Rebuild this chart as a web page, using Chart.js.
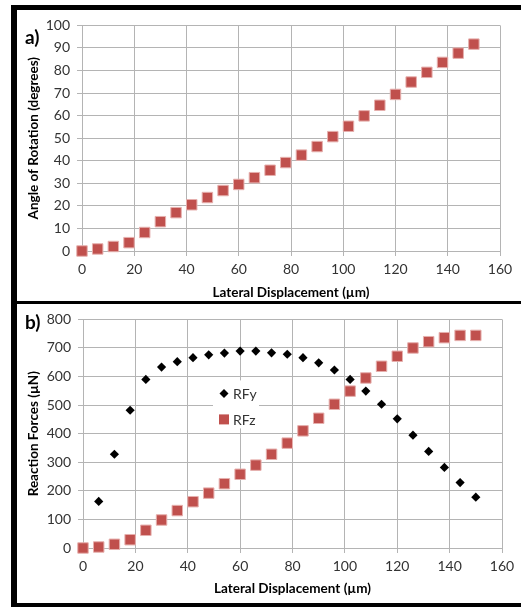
<!DOCTYPE html>
<html><head><meta charset="utf-8">
<script src="https://cdn.jsdelivr.net/npm/chart.js@4/dist/chart.umd.min.js"></script>
<style>
html,body{margin:0;padding:0;background:#fff;}
body{width:521px;height:607px;overflow:hidden;position:relative;font-family:Lato,"Open Sans",sans-serif;}
#frame{position:absolute;left:11px;top:5px;width:520px;height:602px;border-left:6px solid #000;border-top:5px solid #000;border-bottom:4px solid #000;box-sizing:border-box;}
#divider{position:absolute;left:11px;top:301px;width:520px;height:3px;background:#000;}
.box{position:absolute;left:17px;width:504px;}
#b1{top:10px;height:291px;}
#b2{top:304px;height:299px;}
.lab{position:absolute;font-weight:bold;font-size:19px;color:#000;font-family:Lato,sans-serif;}
</style></head>
<body>
<div id="frame"></div>
<div id="divider"></div>
<div class="box" id="b1"><canvas id="c1" width="504" height="291"></canvas></div>
<div class="box" id="b2"><canvas id="c2" width="504" height="299"></canvas></div>
<div class="lab" style="left:25px;top:25px;">a)</div>
<div class="lab" style="left:25px;top:310px;">b)</div>
<script>
const displacement = [0,6,12,18,24,30,36,42,48,54,60,66,72,78,84,90,96,102,108,114,120,126,132,138,144,150];
const rotation = [0,0.9,2,3.7,8.2,13,17,20.5,23.7,26.8,29.5,32.5,35.8,39.2,42.5,46.3,50.7,55.3,59.9,64.6,69.4,74.9,79.2,83.6,87.7,91.7];
const rfy = [null,163,328,482,590,633,652,666,676,682,689,689,683,678,666,648,623,590,549,503,452,395,338,282,229,178];
const rfz = [0,3.5,13,29,62,98,131,162,192,225,258,290,328,367,410,454,503,549,595,636,671,700,722,736,744,744];
const xTicksMax = 160, xStep = 20;
const seriesNames = ['RFy','RFz'];
const xTitle = 'Lateral Displacement (µm)';
const yTitleA = 'Angle of Rotation (degrees)';
const yTitleB = 'Reaction Forces (µN)';

const RED = '#C0504D', RED_BORDER = '#E6B0AE', GRID = '#b4b4b4', TXT = '#333';
const tickFont = {family:'Lato', size:14};
const titleFont = {family:'Lato', size:13.5, weight:'bold'};

function pts(vals){ return displacement.map((x,i)=>({x:x,y:vals[i]})).filter(p=>p.y!==null); }

function scales(ymax, ystep, ytitle, yw, xh, xpb){
  return {
    x:{type:'linear',min:0,max:xTicksMax,
      ticks:{stepSize:xStep,color:TXT,font:tickFont,padding:5,maxRotation:0},
      grid:{color:GRID,tickLength:5,tickColor:GRID},
      border:{color:GRID},
      title:{display:true,text:xTitle,color:'#000',font:titleFont,padding:{top:0,bottom:xpb}},
      afterFit(s){s.height=xh;}
    },
    y:{type:'linear',min:0,max:ymax,
      ticks:{stepSize:ystep,color:TXT,font:tickFont,padding:7},
      grid:{color:GRID,tickLength:5,tickColor:GRID},
      border:{color:GRID},
      title:{display:true,text:ytitle,color:'#000',font:titleFont,padding:{top:9,bottom:0}},
      afterFit(s){s.width=yw;}
    }
  };
}

const insideLegend = {
  id:'insideLegend',
  beforeDatasetsDraw(chart, args, o){
    if(!o || !o.show) return;
    const {ctx, chartArea} = chart;
    const x0 = chartArea.left + o.dx, y0 = chartArea.top + o.dy;
    ctx.save();
    ctx.fillStyle = '#fff';
    ctx.fillRect(x0, y0, o.w, o.h);
    chart.data.datasets.forEach((ds, i) => {
      const cy = y0 + o.row0 + i*o.rowGap;
      const cx = x0 + o.markX;
      ctx.beginPath();
      if(ds.pointStyle === 'rectRot'){
        const r = 4.5;
        ctx.moveTo(cx-r,cy);ctx.lineTo(cx,cy-r);ctx.lineTo(cx+r,cy);ctx.lineTo(cx,cy+r);ctx.closePath();
        ctx.fillStyle = ds.backgroundColor; ctx.fill();
      } else {
        const h = 5;
        ctx.rect(cx-h,cy-h,2*h,2*h);
        ctx.fillStyle = ds.backgroundColor; ctx.fill();
      }
      ctx.fillStyle = TXT;
      ctx.font = '14px Lato';
      ctx.textBaseline = 'middle';
      ctx.fillText(ds.label, x0 + o.textX, cy+1);
    });
    ctx.restore();
  }
};

new Chart(document.getElementById('c1'), {
  type:'scatter',
  data:{datasets:[{label:'Angle',data:pts(rotation),pointStyle:'rect',pointRadius:7.4,pointHoverRadius:7.4,
    backgroundColor:RED,borderColor:RED_BORDER,borderWidth:1,clip:false}]},
  options:{responsive:false,animation:false,events:[],
    layout:{padding:{left:0,top:13,right:21,bottom:0}},
    plugins:{legend:{display:false},tooltip:{enabled:false},insideLegend:{show:false}},
    scales:scales(100,10,yTitleA,65,50,0)
  },
  plugins:[insideLegend]
});

new Chart(document.getElementById('c2'), {
  type:'scatter',
  data:{datasets:[
    {label:seriesNames[0],data:pts(rfy),pointStyle:'rectRot',pointRadius:4.6,pointHoverRadius:4.6,
      backgroundColor:'#000',borderColor:'#000',borderWidth:0,clip:false},
    {label:seriesNames[1],data:pts(rfz),pointStyle:'rect',pointRadius:7.4,pointHoverRadius:7.4,
      backgroundColor:RED,borderColor:RED_BORDER,borderWidth:1,clip:false}
  ]},
  options:{responsive:false,animation:false,events:[],
    layout:{padding:{left:0,top:15,right:19,bottom:0}},
    plugins:{legend:{display:false},tooltip:{enabled:false},
      insideLegend:{show:true,dx:130,dy:61,w:46,h:48,row0:13,rowGap:26,markX:11,textX:20}},
    scales:scales(800,100,yTitleB,66,55,6)
  },
  plugins:[insideLegend]
});
</script>
</body></html>
